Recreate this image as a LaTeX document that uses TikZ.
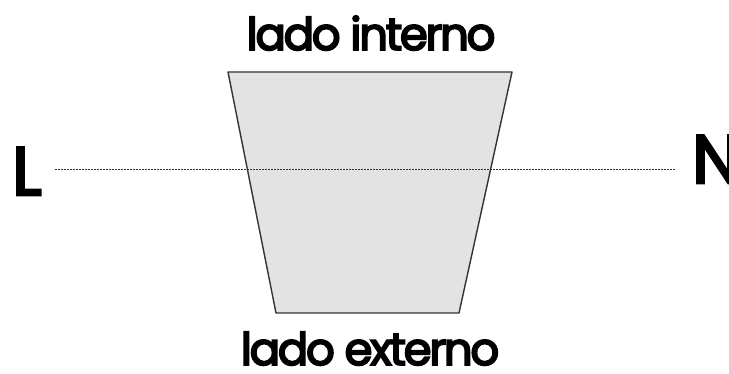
\documentclass[tikz,border=0pt]{standalone}
\usepackage{fontspec}
\setmainfont{Poppins}
\newfontfamily\tightfont[LetterSpace=-5,FakeBold=4]{Poppins}
\newfontfamily\bigfont[FakeBold=4]{Poppins}
\begin{document}
\begin{tikzpicture}[x=1pt,y=-1pt,
  lbl/.style={inner sep=0pt,font=\tightfont\fontsize{45}{48}\selectfont},
  big/.style={inner sep=0pt,font=\bigfont\fontsize{68}{72}\selectfont}]
\useasboundingbox (0,0) rectangle (729,374);
\coordinate (tl) at (228,72);
\coordinate (tr) at (512,72);
\coordinate (br) at (459,313);
\coordinate (bl) at (276,313);
\draw[fill=black!11,draw=black!80,line width=1.4pt,line join=round] (tl) -- (tr) -- (br) -- (bl) -- cycle;
\node[big,anchor=base west] (L) at (12,195) {L};
\node[big,anchor=base west] (N) at (692,183) {N};
\coordinate (d1) at (55,169);
\coordinate (d2) at (676,169);
\draw[dash pattern=on 2pt off 1pt,line width=0.9pt,black!80] (d1) -- (d2);
\node[lbl,anchor=base] (top) at (371,50) {lado interno};
\node[lbl,anchor=base] (bot) at (370,365) {lado externo};
\end{tikzpicture}
\end{document}
